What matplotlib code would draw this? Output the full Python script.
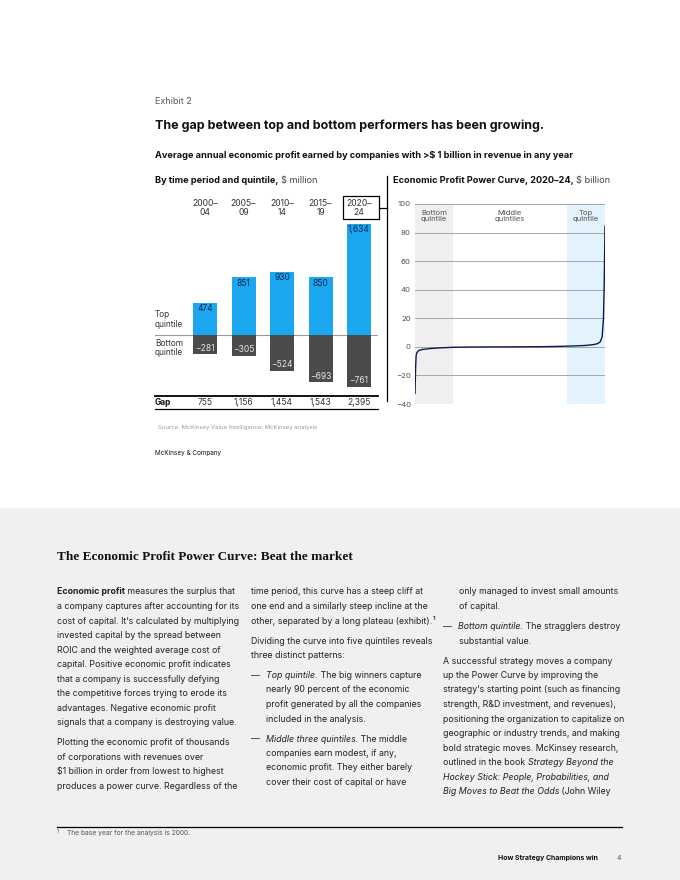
import matplotlib
matplotlib.use('Agg')
import matplotlib.pyplot as plt
import matplotlib.transforms as mtransforms
from matplotlib.patches import Rectangle
from matplotlib.lines import Line2D

W, H = 680, 880

# data: left panel, $ million
periods = ['2000–\n04', '2005–\n09', '2010–\n14', '2015–\n19', '2020–\n24']
top_quintile = [474, 851, 930, 850, 1634]
bottom_quintile = [-281, -305, -524, -693, -761]
gap = ['755', '1,156', '1,454', '1,543', '2,395']

# data: right panel, power curve 2020-24, $ billion (percentile of companies, economic profit)
curve_pct = [0, 0.3, 0.6, 1, 2, 4, 8, 12, 20, 30, 50, 65, 75, 85, 90, 94, 96, 97.5, 98.5, 99.2, 99.6, 100]
curve_ep = [-33, -15, -6, -4, -2.5, -1.8, -1.2, -0.8, -0.3, -0.1, 0, 0.1, 0.3, 0.7, 1.0, 1.6, 2.2, 3.5, 7, 20, 45, 85]
curve_ticks = [-40, -20, 0, 20, 40, 60, 80, 100]

SANS = 'Inter'
SERIF = 'Liberation Serif'
DARK = '#222222'
BLUE = '#1BA6F0'
GREY_BAR = '#4B4B4B'
NAVY = '#0B1B4D'

plt.rcParams['font.family'] = SANS

fig = plt.figure(figsize=(W / 100, H / 100), dpi=100)
fig.patch.set_facecolor('white')
renderer = fig.canvas.get_renderer()


def fx(x):
    return x / W


def fy(y):
    return 1 - y / H


def txt(x, y, s, size=6, color=DARK, weight='normal', style='normal', ha='left', va='center', family=SANS, **kw):
    return fig.text(fx(x), fy(y), s, fontsize=size, color=color, fontweight=weight,
                    fontstyle=style, ha=ha, va=va, family=family, **kw)


def runs(x, y, parts, size=6, color=DARK):
    # draw a line made of differently styled pieces, one after another
    for s, kind in parts:
        weight = 'bold' if kind == 'b' else 'normal'
        style = 'italic' if kind == 'i' else 'normal'
        col = color
        if kind == 'g':
            col = '#444444'
        t = txt(x, y, s, size=size, color=col, weight=weight, style=style)
        bb = t.get_window_extent(renderer)
        x = x + bb.width


def hline(x0, x1, y, color='black', lw=1.0):
    fig.add_artist(Line2D([fx(x0), fx(x1)], [fy(y), fy(y)], color=color, lw=lw))


# bottom grey band
fig.add_artist(Rectangle((0, 0), 1, fy(508), transform=fig.transFigure, color='#F0F0F0', zorder=-5))

# header
txt(155, 101, 'Exhibit 2', size=6.5, color='#555555')
txt(155, 126, 'The gap between top and bottom performers has been growing.', size=9.0, weight='bold', color='#111111')
txt(155, 155, 'Average annual economic profit earned by companies with >\\$ 1 billion in revenue in any year',
    size=6.62, weight='bold', color='#111111')
runs(155, 180, [('By time period and quintile, ', 'b'), ('\\$ million', 'g')], size=6.62, color='#111111')
runs(393, 180, [('Economic Profit Power Curve, 2020–24, ', 'b'), ('\\$ billion', 'g')], size=6.62, color='#111111')

# divider between panels
fig.add_artist(Line2D([fx(387), fx(387)], [fy(176), fy(401)], color='black', lw=0.9))

# ---- left panel: bars ----
ax = fig.add_axes([fx(155), fy(392), (378 - 155) / W, (392 - 220) / H])
scale = 111 / 1634.0
ax.set_xlim(-1.299, 4.493)
ax.set_ylim(-(392 - 335) / scale, (335 - 220) / scale)
ax.axis('off')
xs = list(range(len(periods)))
ax.bar(xs, top_quintile, width=0.623, color=BLUE, zorder=2)
ax.bar(xs, bottom_quintile, width=0.623, color=GREY_BAR, zorder=2)
ax.axhline(0, color='#999999', lw=0.8, zorder=1)

blend = mtransforms.blended_transform_factory(ax.transData, fig.transFigure)
off_down = mtransforms.offset_copy(ax.transData, fig=fig, y=-6, units='dots')
off_up = mtransforms.offset_copy(ax.transData, fig=fig, y=6, units='dots')
for i in xs:
    ax.text(i, top_quintile[i], format(top_quintile[i], ','), transform=off_down,
            ha='center', va='center', fontsize=6.1, color='#0B2A4D')
    ax.text(i, bottom_quintile[i], '−' + str(abs(bottom_quintile[i])), transform=off_up,
            ha='center', va='center', fontsize=6.1, color='#E6E6E6')
    ax.text(i, fy(208), periods[i], transform=blend, ha='center', va='center', fontsize=6.2,
            color='#333333', linespacing=1.1)
    ax.text(i, fy(402.5), gap[i], transform=blend, ha='center', va='center', fontsize=6.1, color='#333333')

# highlight box around latest period + connector to divider
fig.add_artist(Rectangle((fx(343), fy(219)), 36 / W, 23 / H, transform=fig.transFigure,
                         fill=False, ec='black', lw=0.9))
hline(379, 387, 208, lw=0.9)

txt(155, 319.5, 'Top\nquintile', size=6.0, color='#333333', linespacing=1.1)
txt(155, 348, 'Bottom\nquintile', size=6.0, color='#333333', linespacing=1.1)

hline(155, 378, 396.5, lw=1.3)
txt(155, 402.5, 'Gap', size=6.0, weight='bold', color='#111111')
hline(155, 378, 409.5, lw=0.9)

txt(158, 427, 'Source: McKinsey Value Intelligence; McKinsey analysis', size=4.3, color='#999999')
txt(155, 453, 'McKinsey & Company', size=4.6, color='#111111')

# ---- right panel: power curve ----
ax2 = fig.add_axes([fx(415), fy(404), (605 - 415) / W, 200 / H])
ax2.set_xlim(0, 100)
ax2.set_ylim(-40, 100)
ax2.axvspan(0, 20, color='#EFEFEF', lw=0, zorder=0)
ax2.axvspan(80, 100, color='#E3F3FD', lw=0, zorder=0)
for v in curve_ticks:
    ax2.axhline(v, color='#9A9A9A', lw=0.6, zorder=1)
ax2.plot(curve_pct, curve_ep, color=NAVY, lw=1.0, zorder=3, solid_capstyle='butt')
ax2.set_yticks(curve_ticks)
ax2.set_yticklabels([str(v).replace('-', '−') for v in curve_ticks], fontsize=5.6, color='#555555')
ax2.tick_params(axis='y', length=0, pad=3)
ax2.set_xticks([])
for s in ax2.spines.values():
    s.set_visible(False)
ax2.patch.set_alpha(0)
ax2.text(10, 96, 'Bottom\nquintile', ha='center', va='top', fontsize=5.5, color='#555555', linespacing=1.1)
ax2.text(50, 96, 'Middle\nquintiles', ha='center', va='top', fontsize=5.5, color='#555555', linespacing=1.1)
ax2.text(90, 96, 'Top\nquintile', ha='center', va='top', fontsize=5.5, color='#555555', linespacing=1.1)

# ---- article text ----
txt(57, 557, 'The Economic Profit Power Curve: Beat the market', size=9.5, weight='bold', family=SERIF,
    color='#111111')

BODY = 6.35
LS = 14.5
PG = 20


def column(x, y, lines):
    for item in lines:
        if item == 'gap':
            y += PG - LS
            continue
        dx, parts = item
        if dx == 'dash':
            txt(x, y, '—', size=BODY)
            runs(x + 15, y, parts, size=BODY)
        else:
            runs(x + dx, y, parts, size=BODY)
        y += LS


col1 = [
    (0, [('Economic profit', 'b'), (' measures the surplus that', 'r')]),
    (0, [('a company captures after accounting for its', 'r')]),
    (0, [('cost of capital. It’s calculated by multiplying', 'r')]),
    (0, [('invested capital by the spread between', 'r')]),
    (0, [('ROIC and the weighted average cost of', 'r')]),
    (0, [('capital. Positive economic profit indicates', 'r')]),
    (0, [('that a company is successfully defying', 'r')]),
    (0, [('the competitive forces trying to erode its', 'r')]),
    (0, [('advantages. Negative economic profit', 'r')]),
    (0, [('signals that a company is destroying value.', 'r')]),
    'gap',
    (0, [('Plotting the economic profit of thousands', 'r')]),
    (0, [('of corporations with revenues over', 'r')]),
    (0, [('\\$1 billion in order from lowest to highest', 'r')]),
    (0, [('produces a power curve. Regardless of the', 'r')]),
]
col2 = [
    (0, [('time period, this curve has a steep cliff at', 'r')]),
    (0, [('one end and a similarly steep incline at the', 'r')]),
    (0, [('other, separated by a long plateau (exhibit).', 'r'), ('¹', 'r')]),
    'gap',
    (0, [('Dividing the curve into five quintiles reveals', 'r')]),
    (0, [('three distinct patterns:', 'r')]),
    'gap',
    ('dash', [('Top quintile.', 'i'), (' The big winners capture', 'r')]),
    (15, [('nearly 90 percent of the economic', 'r')]),
    (15, [('profit generated by all the companies', 'r')]),
    (15, [('included in the analysis.', 'r')]),
    'gap',
    ('dash', [('Middle three quintiles.', 'i'), (' The middle', 'r')]),
    (15, [('companies earn modest, if any,', 'r')]),
    (15, [('economic profit. They either barely', 'r')]),
    (15, [('cover their cost of capital or have', 'r')]),
]
col3 = [
    (16, [('only managed to invest small amounts', 'r')]),
    (16, [('of capital.', 'r')]),
    'gap',
    ('dash', [('Bottom quintile.', 'i'), (' The stragglers destroy', 'r')]),
    (16, [('substantial value.', 'r')]),
    'gap',
    (0, [('A successful strategy moves a company', 'r')]),
    (0, [('up the Power Curve by improving the', 'r')]),
    (0, [('strategy’s starting point (such as financing', 'r')]),
    (0, [('strength, R&D investment, and revenues),', 'r')]),
    (0, [('positioning the organization to capitalize on', 'r')]),
    (0, [('geographic or industry trends, and making', 'r')]),
    (0, [('bold strategic moves. McKinsey research,', 'r')]),
    (0, [('outlined in the book ', 'r'), ('Strategy Beyond the', 'i')]),
    (0, [('Hockey Stick: People, Probabilities, and', 'i')]),
    (0, [('Big Moves to Beat the Odds', 'i'), (' (John Wiley', 'r')]),
]
column(57, 592, col1)
column(251, 592, col2)
column(443, 592, col3)

# footnote and page footer
hline(57, 622, 827, lw=0.9)
txt(57, 831, '1', size=3.6, color='#555555')
txt(67, 833, 'The base year for the analysis is 2000.', size=4.8, color='#555555')
txt(598, 858, 'How Strategy Champions win', size=5.0, weight='bold', color='#111111', ha='right')
txt(621, 858, '4', size=5.0, color='#555555', ha='right')

fig.savefig('out.png', dpi=100, facecolor=fig.get_facecolor())
